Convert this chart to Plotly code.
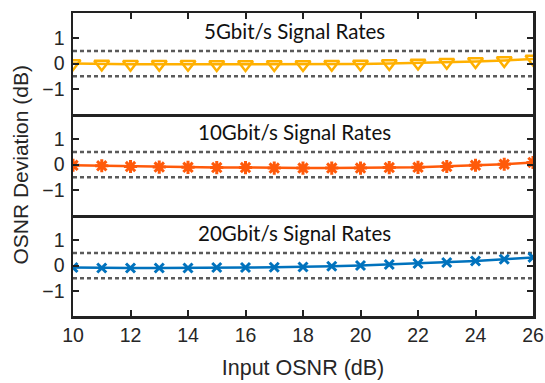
import plotly.graph_objects as go

osnr = list(range(10, 27))
dev_5g = [0.0, -0.02, -0.03, -0.03, -0.03, -0.04, -0.04, -0.04, -0.04, -0.03, -0.02, 0.0, 0.02, 0.05, 0.08, 0.12, 0.18]
dev_10g = [-0.03, -0.05, -0.08, -0.1, -0.11, -0.12, -0.12, -0.14, -0.14, -0.14, -0.14, -0.12, -0.11, -0.08, -0.03, 0.01, 0.08]
dev_20g = [-0.08, -0.1, -0.1, -0.1, -0.1, -0.08, -0.08, -0.07, -0.06, -0.03, 0.0, 0.04, 0.08, 0.12, 0.18, 0.25, 0.32]
panel_titles = ["5Gbit/s Signal Rates", "10Gbit/s Signal Rates", "20Gbit/s Signal Rates"]
tolerance = 0.5
x_ticks = [10, 12, 14, 16, 18, 20, 22, 24, 26]
y_ticks = [-1, 0, 1]

c5, c10, c20 = "#FFB000", "#FF5A0A", "#0072BD"
axcol = "#222222"
font_tick = dict(family="Liberation Sans, Arial", size=19.5, color="#262626")

fig = go.Figure()
fig.add_trace(go.Scatter(x=osnr, y=dev_5g, mode="lines+markers", xaxis="x", yaxis="y",
                         line=dict(color=c5, width=2.5),
                         marker=dict(symbol="triangle-down-open", size=13, color=c5, line=dict(width=2.5, color=c5))))
fig.add_trace(go.Scatter(x=osnr, y=dev_10g, mode="lines+markers", xaxis="x2", yaxis="y2",
                         line=dict(color=c10, width=2.5),
                         marker=dict(symbol="asterisk-open", size=11, color=c10, line=dict(width=3, color=c10))))
fig.add_trace(go.Scatter(x=osnr, y=dev_20g, mode="lines+markers", xaxis="x3", yaxis="y3",
                         line=dict(color=c20, width=2.5),
                         marker=dict(symbol="x-thin-open", size=9, color=c20, line=dict(width=3, color=c20))))

domains = [[2/3, 1.0], [1/3, 2/3], [0.0, 1/3]]
yaxes = ["y", "y2", "y3"]
shapes = []
annotations = []
for i, (dom, ya) in enumerate(zip(domains, yaxes)):
    key = "yaxis" if i == 0 else f"yaxis{i+1}"
    xkey = "xaxis" if i == 0 else f"xaxis{i+1}"
    xa = "x" if i == 0 else f"x{i+1}"
    fig.layout[key] = dict(domain=dom, range=[-2, 2], tickvals=y_ticks, ticks="inside", ticklen=6,
                           tickwidth=2, tickcolor=axcol, showline=True, linecolor=axcol, linewidth=2.5,
                           mirror="ticks", showgrid=False, zeroline=False, tickfont=font_tick, anchor=xa,
                           ticklabelstandoff=2, automargin=False)
    xa_cfg = dict(range=[10, 26], domain=[0, 1], anchor=ya, showline=True, linecolor=axcol, linewidth=2.5,
                  showgrid=False, zeroline=False, tickvals=x_ticks, tickfont=font_tick, automargin=False)
    if i == 0:
        xa_cfg.update(side="top", mirror=True, ticks="inside", ticklen=6, tickwidth=2, tickcolor=axcol,
                      showticklabels=False)
    elif i == 1:
        xa_cfg.update(mirror=False, ticks="", showticklabels=False)
    else:
        xa_cfg.update(mirror=False, ticks="inside", ticklen=6, tickwidth=2, tickcolor=axcol, showticklabels=True,
                      title=dict(text="Input OSNR (dB)", font=dict(family="Liberation Sans, Arial", size=21.5, color="#262626"), standoff=15))
    fig.layout[xkey] = xa_cfg
    for yv in (tolerance, -tolerance):
        shapes.append(dict(type="line", xref=f"{xa} domain", yref=ya, x0=0, x1=1, y0=yv, y1=yv,
                           line=dict(color="#5a5a5a", width=2.5, dash="4px,3px"), layer="below"))
    annotations.append(dict(text=panel_titles[i], xref=xa, yref=ya, x=17.7, y=1.28, showarrow=False,
                            font=dict(family="Lato, Calibri", size=20.5, color="#111111"),
                            xanchor="center", yanchor="middle"))

annotations.append(dict(text="OSNR Deviation (dB)", xref="paper", yref="paper", x=-0.115, y=0.5,
                        textangle=-90, showarrow=False, xanchor="center", yanchor="middle",
                        font=dict(family="Liberation Sans, Arial", size=21, color="#262626")))

fig.update_layout(width=545, height=383, margin=dict(l=73, r=12, t=13, b=67, autoexpand=False),
                  paper_bgcolor="white", plot_bgcolor="white", showlegend=False, hovermode=False,
                  shapes=shapes, annotations=annotations)
fig.write_html("out.html", config={"displayModeBar": False, "staticPlot": True},
               post_script="document.body.style.margin='0';document.body.style.overflow='hidden';")
